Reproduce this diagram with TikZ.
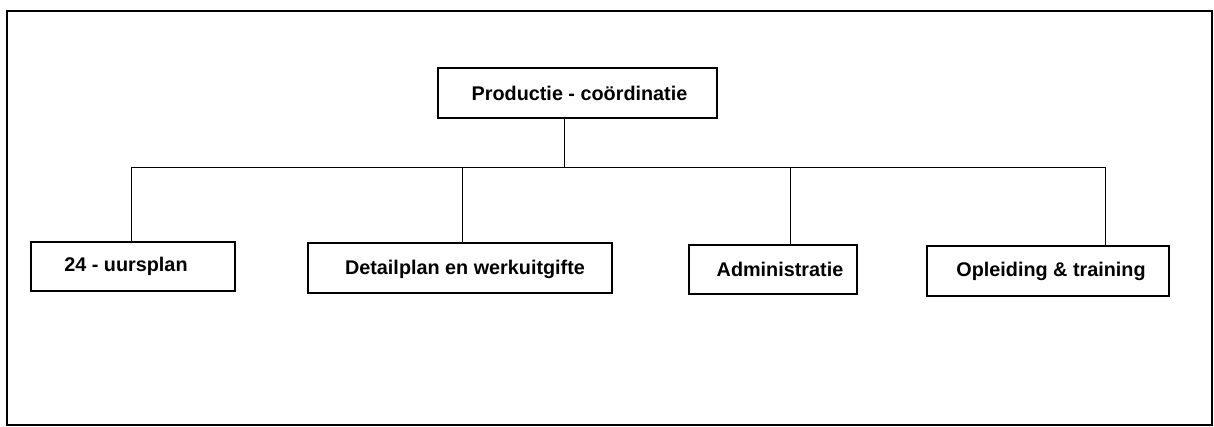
\documentclass[tikz,border=0pt]{standalone}
\usepackage{fontspec}
\setmainfont{Liberation Sans}
\begin{document}
\begin{tikzpicture}[x=1pt,y=-1pt,
  orgbox/.style={draw, line width=1.1pt, rectangle, inner sep=0pt},
  boxtext/.style={inner sep=0pt, font=\fontsize{19.8}{23}\selectfont\bfseries},
  link/.style={line width=0.9pt}]
\useasboundingbox (0,0) rectangle (1214,427);
% outer frame
\draw[line width=2pt] (7,11) rectangle (1212,425);

% boxes
\node[orgbox, minimum width=279pt, minimum height=50pt] (top) at (577.5,93) {};
\node[orgbox, minimum width=204pt, minimum height=49pt] (uur) at (133,266.5) {};
\node[orgbox, minimum width=304pt, minimum height=50pt] (detail) at (460,268) {};
\node[orgbox, minimum width=168pt, minimum height=49pt] (admin) at (773,269.5) {};
\node[orgbox, minimum width=242pt, minimum height=50pt] (opl) at (1048,271) {};

% box captions
\node[boxtext] (topT) at ([xshift=2pt]top.center) {Productie - co\"ordinatie};
\node[boxtext] (uurT) at ([xshift=-7pt]uur.center) {24 - uursplan};
\node[boxtext] (detailT) at ([xshift=5pt,yshift=-1pt]detail.center) {Detailplan en werkuitgifte};
\node[boxtext] (adminT) at ([xshift=7pt]admin.center) {Administratie};
\node[boxtext] (oplT) at ([xshift=3pt]opl.center) {Opleiding \& training};

% distribution bus
\coordinate (busA) at (131,167);
\coordinate (busB) at (462,167);
\coordinate (busC) at (790,167);
\coordinate (busD) at (1105,167);
\coordinate (busM) at (564,167);

\draw[link] (top.south -| busM) -- (busM);
\draw[link] (busA) -- (busD);
\draw[link] (busA) -- (busA |- uur.north);
\draw[link] (busB) -- (busB |- detail.north);
\draw[link] (busC) -- (busC |- admin.north);
\draw[link] (busD) -- (busD |- opl.north);
\end{tikzpicture}
\end{document}
